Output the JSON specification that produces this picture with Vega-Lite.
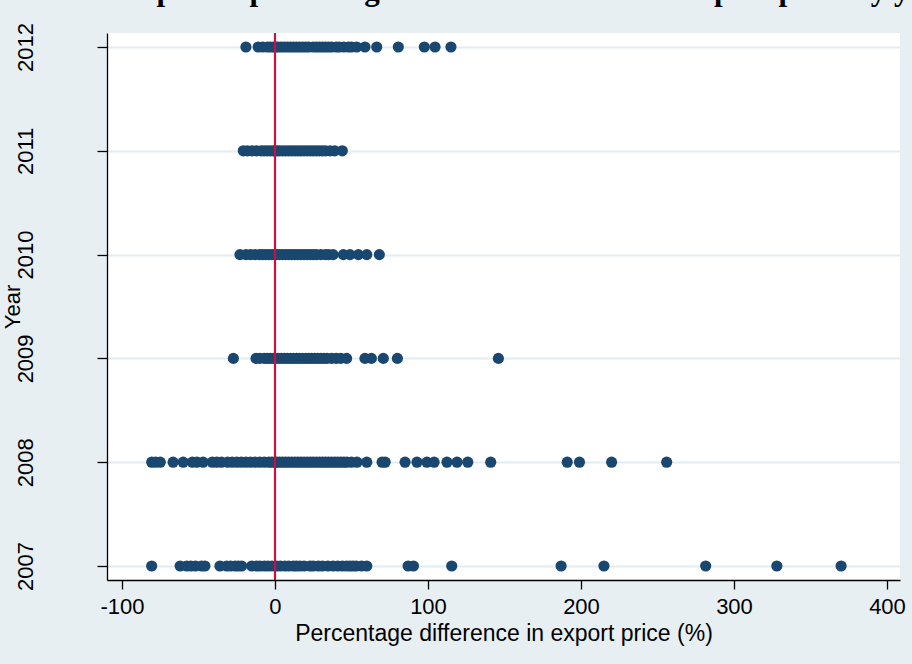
{
  "$schema": "https://vega.github.io/schema/vega-lite/v6.json",
  "width": 793,
  "height": 547,
  "autosize": {"type": "none"},
  "padding": {"left": 107, "top": 33, "right": 12, "bottom": 84},
  "background": "#e8eff2",
  "title": {
    "text": "Scatter plot of percentage difference in the unit export price by year",
    "font": "Liberation Serif",
    "fontSize": 31,
    "fontWeight": "bold",
    "color": "#000000",
    "anchor": "middle",
    "frame": "group",
    "baseline": "alphabetic",
    "offset": 0,
    "dy": 8
  },
  "config": {
    "view": {"fill": "white", "stroke": null},
    "axis": {
      "labelFont": "Liberation Sans",
      "titleFont": "Liberation Sans",
      "labelColor": "#000000",
      "titleColor": "#000000",
      "domainColor": "#000000",
      "tickColor": "#000000",
      "domainWidth": 1.3,
      "tickWidth": 1.3,
      "titleFontWeight": "normal"
    }
  },
  "data": {
    "values": [
      {"year": 2012, "pct": -19}, {"year": 2012, "pct": -11}, {"year": 2012, "pct": -8}, {"year": 2012, "pct": -5}, {"year": 2012, "pct": -3}, {"year": 2012, "pct": -1}, {"year": 2012, "pct": 0.5}, {"year": 2012, "pct": 2}, {"year": 2012, "pct": 4}, {"year": 2012, "pct": 6}, {"year": 2012, "pct": 8}, {"year": 2012, "pct": 10}, {"year": 2012, "pct": 12}, {"year": 2012, "pct": 14}, {"year": 2012, "pct": 16}, {"year": 2012, "pct": 18}, {"year": 2012, "pct": 20}, {"year": 2012, "pct": 22}, {"year": 2012, "pct": 25}, {"year": 2012, "pct": 27}, {"year": 2012, "pct": 29}, {"year": 2012, "pct": 31}, {"year": 2012, "pct": 33}, {"year": 2012, "pct": 35}, {"year": 2012, "pct": 37}, {"year": 2012, "pct": 40}, {"year": 2012, "pct": 42}, {"year": 2012, "pct": 45}, {"year": 2012, "pct": 48}, {"year": 2012, "pct": 50}, {"year": 2012, "pct": 53.4}, {"year": 2012, "pct": 58.8}, {"year": 2012, "pct": 66.5}, {"year": 2012, "pct": 80.6}, {"year": 2012, "pct": 97.6}, {"year": 2012, "pct": 104.6}, {"year": 2012, "pct": 115},
      {"year": 2011, "pct": -20.7}, {"year": 2011, "pct": -18}, {"year": 2011, "pct": -15}, {"year": 2011, "pct": -12}, {"year": 2011, "pct": -9}, {"year": 2011, "pct": -7}, {"year": 2011, "pct": -5}, {"year": 2011, "pct": -3}, {"year": 2011, "pct": -1}, {"year": 2011, "pct": 0}, {"year": 2011, "pct": 1.5}, {"year": 2011, "pct": 3}, {"year": 2011, "pct": 5}, {"year": 2011, "pct": 7}, {"year": 2011, "pct": 9}, {"year": 2011, "pct": 11}, {"year": 2011, "pct": 13}, {"year": 2011, "pct": 15}, {"year": 2011, "pct": 17}, {"year": 2011, "pct": 19}, {"year": 2011, "pct": 21}, {"year": 2011, "pct": 23}, {"year": 2011, "pct": 25}, {"year": 2011, "pct": 27}, {"year": 2011, "pct": 29}, {"year": 2011, "pct": 31}, {"year": 2011, "pct": 33}, {"year": 2011, "pct": 36}, {"year": 2011, "pct": 39}, {"year": 2011, "pct": 44},
      {"year": 2010, "pct": -22.9}, {"year": 2010, "pct": -19}, {"year": 2010, "pct": -16}, {"year": 2010, "pct": -13}, {"year": 2010, "pct": -10}, {"year": 2010, "pct": -8}, {"year": 2010, "pct": -6}, {"year": 2010, "pct": -4}, {"year": 2010, "pct": -2}, {"year": 2010, "pct": 0}, {"year": 2010, "pct": 1}, {"year": 2010, "pct": 3}, {"year": 2010, "pct": 5}, {"year": 2010, "pct": 7}, {"year": 2010, "pct": 9}, {"year": 2010, "pct": 11}, {"year": 2010, "pct": 13}, {"year": 2010, "pct": 15}, {"year": 2010, "pct": 17}, {"year": 2010, "pct": 19}, {"year": 2010, "pct": 21}, {"year": 2010, "pct": 23}, {"year": 2010, "pct": 25}, {"year": 2010, "pct": 27}, {"year": 2010, "pct": 30}, {"year": 2010, "pct": 33}, {"year": 2010, "pct": 35}, {"year": 2010, "pct": 38}, {"year": 2010, "pct": 44.7}, {"year": 2010, "pct": 49}, {"year": 2010, "pct": 54.5}, {"year": 2010, "pct": 60}, {"year": 2010, "pct": 68.2},
      {"year": 2009, "pct": -27.2}, {"year": 2009, "pct": -12.4}, {"year": 2009, "pct": -10}, {"year": 2009, "pct": -7}, {"year": 2009, "pct": -5}, {"year": 2009, "pct": -3}, {"year": 2009, "pct": -1}, {"year": 2009, "pct": 0}, {"year": 2009, "pct": 2}, {"year": 2009, "pct": 4}, {"year": 2009, "pct": 6}, {"year": 2009, "pct": 8}, {"year": 2009, "pct": 10}, {"year": 2009, "pct": 12}, {"year": 2009, "pct": 14}, {"year": 2009, "pct": 16}, {"year": 2009, "pct": 18}, {"year": 2009, "pct": 20}, {"year": 2009, "pct": 22}, {"year": 2009, "pct": 24}, {"year": 2009, "pct": 26}, {"year": 2009, "pct": 28}, {"year": 2009, "pct": 30}, {"year": 2009, "pct": 32}, {"year": 2009, "pct": 34}, {"year": 2009, "pct": 37}, {"year": 2009, "pct": 40}, {"year": 2009, "pct": 43}, {"year": 2009, "pct": 46.8}, {"year": 2009, "pct": 58.8}, {"year": 2009, "pct": 63}, {"year": 2009, "pct": 70.8}, {"year": 2009, "pct": 80}, {"year": 2009, "pct": 146},
      {"year": 2008, "pct": -80.6}, {"year": 2008, "pct": -78}, {"year": 2008, "pct": -75}, {"year": 2008, "pct": -66.6}, {"year": 2008, "pct": -60}, {"year": 2008, "pct": -54}, {"year": 2008, "pct": -51}, {"year": 2008, "pct": -47}, {"year": 2008, "pct": -41}, {"year": 2008, "pct": -38}, {"year": 2008, "pct": -35}, {"year": 2008, "pct": -31}, {"year": 2008, "pct": -28}, {"year": 2008, "pct": -25}, {"year": 2008, "pct": -22}, {"year": 2008, "pct": -19}, {"year": 2008, "pct": -16}, {"year": 2008, "pct": -13}, {"year": 2008, "pct": -10}, {"year": 2008, "pct": -7}, {"year": 2008, "pct": -4}, {"year": 2008, "pct": -2}, {"year": 2008, "pct": 0}, {"year": 2008, "pct": 1}, {"year": 2008, "pct": 3}, {"year": 2008, "pct": 5}, {"year": 2008, "pct": 7}, {"year": 2008, "pct": 9}, {"year": 2008, "pct": 11}, {"year": 2008, "pct": 13}, {"year": 2008, "pct": 15}, {"year": 2008, "pct": 17}, {"year": 2008, "pct": 19}, {"year": 2008, "pct": 21}, {"year": 2008, "pct": 23}, {"year": 2008, "pct": 25}, {"year": 2008, "pct": 27}, {"year": 2008, "pct": 29}, {"year": 2008, "pct": 31}, {"year": 2008, "pct": 33}, {"year": 2008, "pct": 35}, {"year": 2008, "pct": 37}, {"year": 2008, "pct": 39}, {"year": 2008, "pct": 41}, {"year": 2008, "pct": 43}, {"year": 2008, "pct": 45}, {"year": 2008, "pct": 47}, {"year": 2008, "pct": 50}, {"year": 2008, "pct": 53.6}, {"year": 2008, "pct": 60}, {"year": 2008, "pct": 70}, {"year": 2008, "pct": 72}, {"year": 2008, "pct": 85}, {"year": 2008, "pct": 92.8}, {"year": 2008, "pct": 99.3}, {"year": 2008, "pct": 104}, {"year": 2008, "pct": 112.4}, {"year": 2008, "pct": 119}, {"year": 2008, "pct": 126}, {"year": 2008, "pct": 141}, {"year": 2008, "pct": 191}, {"year": 2008, "pct": 199}, {"year": 2008, "pct": 220}, {"year": 2008, "pct": 256},
      {"year": 2007, "pct": -80.6}, {"year": 2007, "pct": -62}, {"year": 2007, "pct": -57.7}, {"year": 2007, "pct": -55}, {"year": 2007, "pct": -52}, {"year": 2007, "pct": -48}, {"year": 2007, "pct": -45.8}, {"year": 2007, "pct": -36}, {"year": 2007, "pct": -31.6}, {"year": 2007, "pct": -29}, {"year": 2007, "pct": -26}, {"year": 2007, "pct": -24}, {"year": 2007, "pct": -21.8}, {"year": 2007, "pct": -15.2}, {"year": 2007, "pct": -12}, {"year": 2007, "pct": -9.8}, {"year": 2007, "pct": -7}, {"year": 2007, "pct": -4.6}, {"year": 2007, "pct": -2}, {"year": 2007, "pct": 1}, {"year": 2007, "pct": 3.5}, {"year": 2007, "pct": 6.5}, {"year": 2007, "pct": 9}, {"year": 2007, "pct": 12}, {"year": 2007, "pct": 14}, {"year": 2007, "pct": 16.3}, {"year": 2007, "pct": 19}, {"year": 2007, "pct": 22.9}, {"year": 2007, "pct": 25}, {"year": 2007, "pct": 28.3}, {"year": 2007, "pct": 31}, {"year": 2007, "pct": 34.6}, {"year": 2007, "pct": 38}, {"year": 2007, "pct": 41}, {"year": 2007, "pct": 44}, {"year": 2007, "pct": 46.8}, {"year": 2007, "pct": 49}, {"year": 2007, "pct": 51}, {"year": 2007, "pct": 53}, {"year": 2007, "pct": 56.6}, {"year": 2007, "pct": 60}, {"year": 2007, "pct": 87}, {"year": 2007, "pct": 90.5}, {"year": 2007, "pct": 115.5}, {"year": 2007, "pct": 187}, {"year": 2007, "pct": 215}, {"year": 2007, "pct": 281.5}, {"year": 2007, "pct": 328}, {"year": 2007, "pct": 370}
    ]
  },
  "layer": [
    {
      "mark": {"type": "point", "filled": true, "size": 125, "opacity": 1, "color": "#1a476f", "strokeWidth": 0},
      "encoding": {
        "x": {
          "field": "pct",
          "type": "quantitative",
          "scale": {"domain": [-109.8, 408.5], "nice": false, "zero": false},
          "axis": {
            "title": "Percentage difference in export price (%)",
            "values": [-100, 0, 100, 200, 300, 400],
            "labelExpr": "datum.value < 0 ? '-' + format(-datum.value, 'd') : format(datum.value, 'd')",
            "grid": false,
            "labelFontSize": 22,
            "titleFontSize": 23,
            "tickSize": 9,
            "labelBaseline": "alphabetic",
            "labelPadding": 24,
            "titleBaseline": "alphabetic",
            "titleY": 60,
            "labelFlush": false
          }
        },
        "y": {
          "field": "year",
          "type": "quantitative",
          "scale": {"domain": [2006.865, 2012.135], "nice": false, "zero": false},
          "axis": {
            "title": "Year",
            "values": [2007, 2008, 2009, 2010, 2011, 2012],
            "format": "d",
            "grid": true,
            "gridColor": "#e3ecf0",
            "gridWidth": 2,
            "labelFontSize": 22,
            "labelAngle": 270,
            "labelAlign": "center",
            "labelBaseline": "alphabetic",
            "labelPadding": 65,
            "tickSize": 10,
            "titleFontSize": 22,
            "titleAngle": 270,
            "titleAlign": "center",
            "titleBaseline": "alphabetic",
            "titleX": -88,
            "titleY": 273.5,
            "labelFlush": false
          }
        }
      }
    },
    {
      "data": {"values": [{}]},
      "mark": {"type": "rule", "color": "#cc1040", "strokeWidth": 2.2},
      "encoding": {"x": {"datum": 0}}
    }
  ]
}
